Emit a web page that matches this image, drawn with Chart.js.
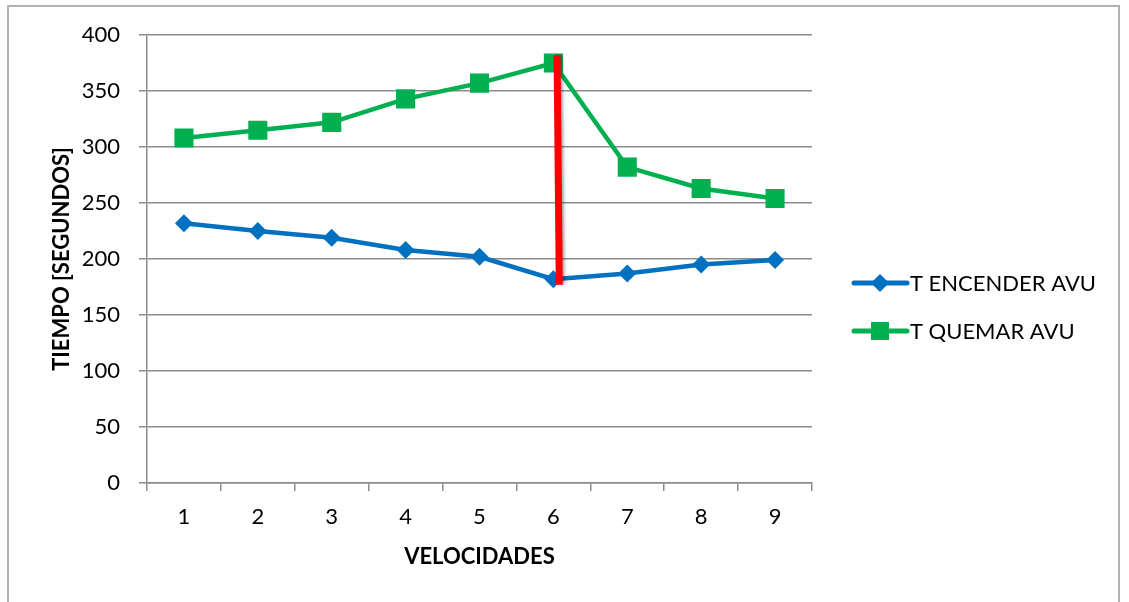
<!DOCTYPE html>
<html>
<head>
<meta charset="utf-8">
<script src="https://cdn.jsdelivr.net/npm/chart.js@4/dist/chart.umd.min.js"></script>
<style>
  html, body { margin: 0; padding: 0; background: #fff; }
  #wrap { position: relative; width: 1129px; height: 602px; overflow: hidden; }
  #frame { position: absolute; left: 7px; top: 5px; width: 1113px; height: 620px; border: 2px solid #b3b3b3; box-sizing: border-box; }
  #chart { position: absolute; left: 0; top: 0; }
</style>
</head>
<body>
<div id="wrap">
  <div id="frame"></div>
  <canvas id="chart" width="1129" height="602"></canvas>
</div>
<script>
// data
var velocidades = ['1', '2', '3', '4', '5', '6', '7', '8', '9'];
var tEncender = [232, 225, 219, 208, 202, 182, 187, 195, 199];
var tQuemar = [308, 315, 322, 343, 357, 375, 282, 263, 254];
var yTicks = [0, 50, 100, 150, 200, 250, 300, 350, 400];
// red marker line (category index, value)
var redLineX = [5.05, 5.08];
var redLineY = [382, 177];

var blue = '#0070C0';
var green = '#00B050';
var grey = '#8c8c8c';
var fontFam = 'Lato, "Open Sans", sans-serif';

// red vertical line drawn over the series
var redLine = {
  id: 'redLine',
  afterDatasetsDraw: function(chart) {
    var ctx = chart.ctx, xs = chart.scales.x, ys = chart.scales.y;
    ctx.save();
    ctx.shadowColor = 'rgba(0,0,0,0.35)';
    ctx.shadowBlur = 3;
    ctx.shadowOffsetX = 2;
    ctx.strokeStyle = '#ff0000';
    ctx.lineWidth = 7;
    ctx.beginPath();
    ctx.moveTo(xs.getPixelForValue(redLineX[0]), ys.getPixelForValue(redLineY[0]));
    ctx.lineTo(xs.getPixelForValue(redLineX[1]), ys.getPixelForValue(redLineY[1]));
    ctx.stroke();
    ctx.restore();
  }
};

// legend with line + marker, like the spreadsheet one
var sideLegend = {
  id: 'sideLegend',
  afterDraw: function(chart) {
    var ctx = chart.ctx;
    var rows = [[chart.data.datasets[0], 283], [chart.data.datasets[1], 331]];
    ctx.save();
    rows.forEach(function(r) {
      var ds = r[0], y = r[1];
      ctx.strokeStyle = ds.borderColor;
      ctx.lineWidth = 5;
      ctx.lineCap = 'round';
      ctx.beginPath();
      ctx.moveTo(854, y);
      ctx.lineTo(907, y);
      ctx.stroke();
      ctx.fillStyle = ds.borderColor;
      ctx.beginPath();
      if (ds.pointStyle === 'rect') {
        ctx.rect(871, y - 9, 18, 18);
      } else {
        ctx.moveTo(880, y - 9); ctx.lineTo(889, y); ctx.lineTo(880, y + 9); ctx.lineTo(871, y);
      }
      ctx.fill();
      ctx.fillStyle = '#000';
      ctx.font = '22px ' + fontFam;
      ctx.textBaseline = 'middle';
      ctx.fillText(ds.label, 910, y + 1);
    });
    ctx.restore();
  }
};

new Chart(document.getElementById('chart'), {
  type: 'line',
  data: {
    labels: velocidades,
    datasets: [
      {
        label: 'T ENCENDER AVU',
        data: tEncender,
        borderColor: blue,
        backgroundColor: blue,
        borderWidth: 4.5,
        pointStyle: 'rectRot',
        pointRadius: 9,
        pointBorderWidth: 0,
        tension: 0
      },
      {
        label: 'T QUEMAR AVU',
        data: tQuemar,
        borderColor: green,
        backgroundColor: green,
        borderWidth: 4.5,
        pointStyle: 'rect',
        pointRadius: 13.5,
        pointBorderWidth: 0,
        tension: 0
      }
    ]
  },
  options: {
    responsive: false,
    animation: false,
    layout: { padding: { left: 0, top: 35, right: 317, bottom: 0 } },
    plugins: { legend: { display: false }, tooltip: { enabled: false } },
    scales: {
      x: {
        type: 'category',
        offset: true,
        grid: { offset: true, drawOnChartArea: false, color: grey, tickLength: 8, lineWidth: 1.5 },
        border: { color: grey, width: 1.5 },
        ticks: { color: '#000', font: { family: fontFam, size: 22 }, padding: 13, maxRotation: 0 },
        title: { display: true, text: 'VELOCIDADES', color: '#000', font: { family: fontFam, size: 22, weight: 'bold' }, padding: { top: 0, bottom: 32 } },
        afterFit: function(s) { s.height = 119; }
      },
      y: {
        min: 0,
        max: 400,
        afterBuildTicks: function(s) { s.ticks = yTicks.map(function(v) { return { value: v }; }); },
        grid: { color: grey, tickLength: 8, lineWidth: 1.5 },
        border: { color: grey, width: 1.5 },
        ticks: { color: '#000', font: { family: fontFam, size: 22 }, padding: 19 },
        title: { display: true, text: 'TIEMPO [SEGUNDOS]', color: '#000', font: { family: fontFam, size: 22, weight: 'bold' }, padding: { top: 49, bottom: 0 } },
        afterFit: function(s) { s.width = 147; }
      }
    }
  },
  plugins: [redLine, sideLegend]
});
</script>
</body>
</html>
